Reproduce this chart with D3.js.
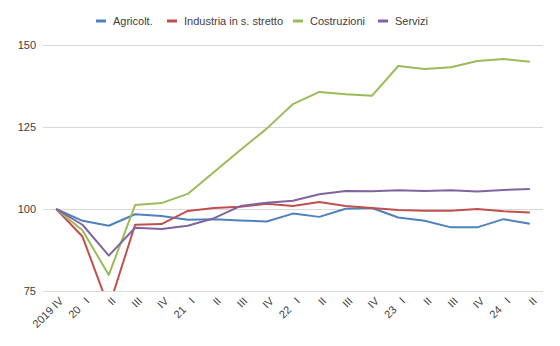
<!DOCTYPE html>
<html>
<head>
<meta charset="utf-8">
<script src="https://cdn.jsdelivr.net/npm/d3@7"></script>
<style>
  html, body { margin: 0; padding: 0; background: #fff; }
  svg { display: block; font-family: "Liberation Sans", Arial, sans-serif; }
</style>
</head>
<body>
<svg id="chart" width="560" height="346"></svg>
<script>
// Quarterly index, 2019 Q4 = 100
const quarters = ["2019 IV", "20   I", "II", "III", "IV", "21   I", "II", "III", "IV",
                  "22   I", "II", "III", "IV", "23   I", "II", "III", "IV", "24   I", "II"];
const seriesNames = ["Agricolt.", "Industria in s. stretto", "Costruzioni", "Servizi"];
const agricoltura = [100, 96.4, 94.9, 98.4, 97.9, 96.7, 96.9, 96.5, 96.2, 98.6, 97.6, 100.1, 100.3, 97.4, 96.4, 94.4, 94.4, 96.9, 95.5];
const industria   = [100, 91.6, 70.0, 95.2, 95.4, 99.4, 100.3, 100.7, 101.6, 100.9, 102.1, 100.9, 100.3, 99.7, 99.5, 99.5, 100.0, 99.3, 98.9];
const costruzioni = [100, 93.5, 79.9, 101.2, 101.8, 104.6, 111.3, 118.0, 124.5, 132.0, 135.7, 135.0, 134.5, 143.6, 142.7, 143.2, 145.1, 145.7, 144.9];
const servizi     = [100, 95.2, 85.8, 94.3, 93.9, 94.9, 97.2, 100.9, 101.9, 102.5, 104.5, 105.5, 105.4, 105.7, 105.5, 105.7, 105.3, 105.8, 106.1];
const yTicks = [75, 100, 125, 150];
const colors = ["#4F81BD", "#C0504D", "#9BBB59", "#8064A2"];

const series = [agricoltura, industria, costruzioni, servizi];

const svg = d3.select("#chart");
const plotLeft = 43, plotRight = 543, plotTop = 45, plotBottom = 291;

const x = d3.scaleBand().domain(d3.range(quarters.length)).range([plotLeft, plotRight]);
const y = d3.scaleLinear().domain([75, 150]).range([plotBottom, plotTop]);

// Gridlines
svg.append("g").selectAll("line").data(yTicks).join("line")
  .attr("x1", plotLeft).attr("x2", plotRight)
  .attr("y1", d => y(d)).attr("y2", d => y(d))
  .attr("stroke", "#d9d9d9").attr("stroke-width", 1)
  .attr("shape-rendering", "crispEdges");

// Y axis labels
const yAxis = d3.axisLeft(y).tickValues(yTicks).tickSize(0).tickPadding(7);
const gy = svg.append("g").attr("transform", `translate(${plotLeft},0)`).call(yAxis);
gy.select(".domain").remove();
gy.selectAll("text").attr("font-size", 11).attr("fill", "#404040")
  .attr("font-family", "Liberation Sans, Arial, sans-serif");

// X axis labels, rotated
svg.append("g").selectAll("text").data(quarters).join("text")
  .attr("transform", (d, i) => `translate(${x(i) + x.bandwidth() / 2 + 5},${plotBottom + 8}) rotate(-45)`)
  .attr("text-anchor", "end")
  .attr("dy", "0.35em")
  .attr("font-size", 11)
  .attr("fill", "#404040")
  .style("white-space", "pre")
  .text(d => d);

// Clip lines to plot area
svg.append("clipPath").attr("id", "plotclip")
  .append("rect").attr("x", plotLeft).attr("y", plotTop - 5)
  .attr("width", plotRight - plotLeft).attr("height", plotBottom - plotTop + 5);

const line = d3.line()
  .x((d, i) => x(i) + x.bandwidth() / 2)
  .y(d => y(d));

svg.append("g").attr("clip-path", "url(#plotclip)")
  .selectAll("path").data(series).join("path")
  .attr("d", d => line(d))
  .attr("fill", "none")
  .attr("stroke", (d, i) => colors[i])
  .attr("stroke-width", 2)
  .attr("stroke-linejoin", "round");

// Legend
const legendX = [96, 167, 293, 378];
const lg = svg.append("g").selectAll("g").data(seriesNames).join("g")
  .attr("transform", (d, i) => `translate(${legendX[i]},21)`);
lg.append("line").attr("x1", 0).attr("x2", 10).attr("y1", 0).attr("y2", 0)
  .attr("stroke", (d, i) => colors[i]).attr("stroke-width", 3);
lg.append("text").attr("x", 17).attr("dy", "0.35em")
  .attr("font-size", 11).attr("fill", "#404040").text(d => d);
</script>
</body>
</html>
